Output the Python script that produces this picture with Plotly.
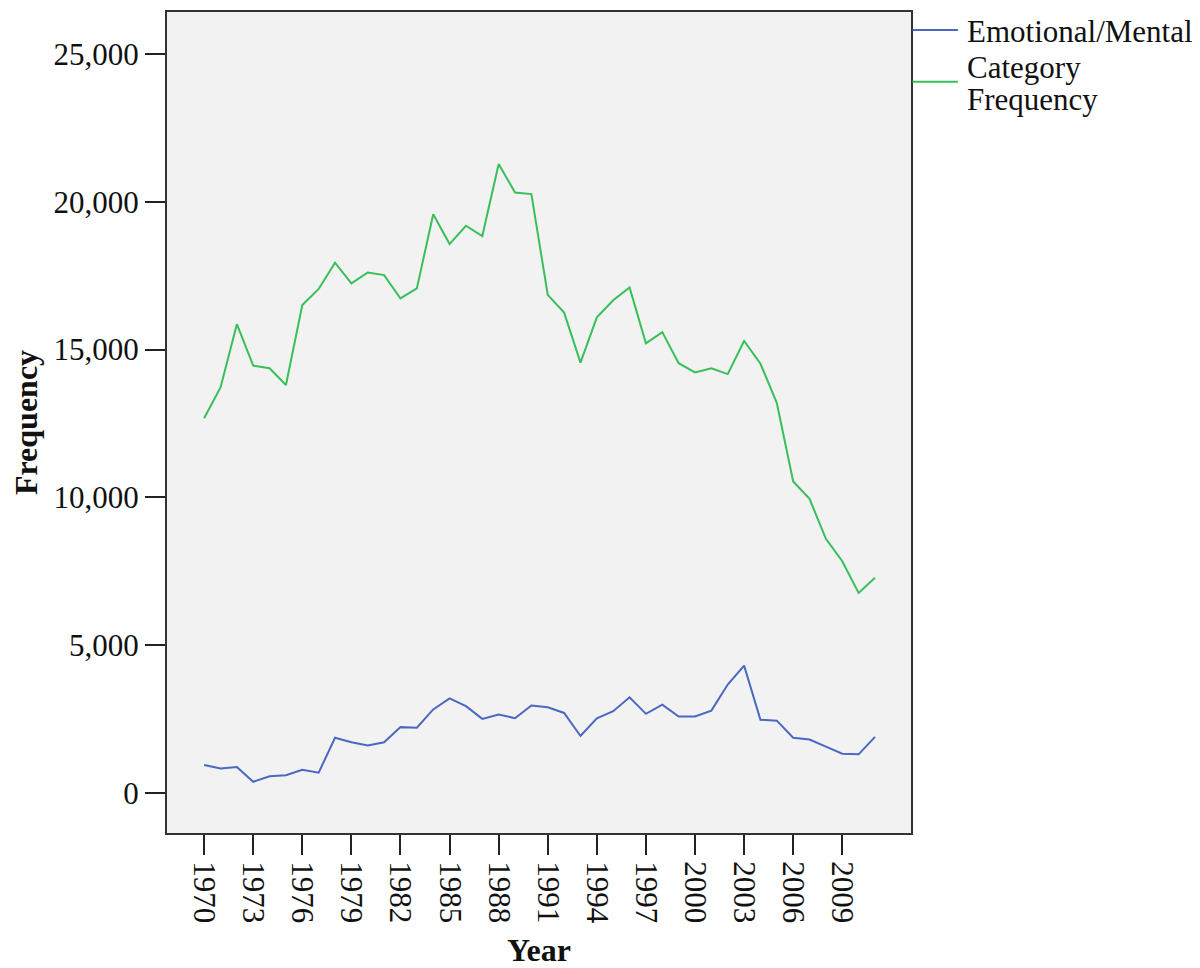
import plotly.graph_objects as go

# Years on the x axis
years = list(range(1970, 2012))

# Emotional/Mental attack frequency per year
emotional_mental = [
    950, 830, 880, 380, 570, 600, 790, 690, 1870, 1720,
    1610, 1720, 2230, 2210, 2830, 3200, 2940, 2510, 2660, 2530,
    2960, 2900, 2710, 1930, 2530, 2770, 3240, 2680, 2990, 2590,
    2590, 2790, 3670, 4310, 2480, 2450, 1870, 1810, 1570, 1330,
    1310, 1900,
]

# Total category frequency per year
category_frequency = [
    12680, 13720, 15860, 14460, 14370, 13800, 16510, 17050, 17940, 17240,
    17610, 17520, 16730, 17070, 19580, 18570, 19190, 18840, 21280, 20310,
    20260, 16850, 16250, 14560, 16090, 16670, 17100, 15210, 15590, 14540,
    14230, 14370, 14170, 15290, 14520, 13190, 10540, 9950, 8600, 7840,
    6770, 7280,
]

series_names = ["Emotional/Mental", "Category Frequency"]
series_colors = ["#4a68c0", "#38bf5a"]

tick_years = list(range(1970, 2010, 3))

font_family = "Liberation Serif, Times New Roman, serif"

fig = go.Figure()
for name, vals, color in zip(series_names, [emotional_mental, category_frequency], series_colors):
    fig.add_trace(go.Scatter(
        x=years, y=vals, mode="lines", name=name,
        line=dict(color=color, width=2), showlegend=False,
    ))

# legend drawn by hand (SPSS style: long line keys, tight wrapped text)
legend_shapes = []
legend_notes = []
key_y = [0.978, 0.915]
for name, color, ky in zip(series_names, series_colors, key_y):
    legend_shapes.append(dict(
        type="line", xref="paper", yref="paper",
        x0=1.002, x1=1.063, y0=ky, y1=ky,
        line=dict(color=color, width=2),
    ))
text_rows = [("Emotional/Mental", 0.976), ("Category", 0.932), ("Frequency", 0.893)]
for txt, ty in text_rows:
    legend_notes.append(dict(
        text=txt, xref="paper", yref="paper", x=1.072, y=ty,
        xanchor="left", yanchor="middle", showarrow=False,
        font=dict(size=31),
    ))

fig.update_layout(
    width=1200, height=968,
    margin=dict(l=159, r=297, t=2, b=143),
    paper_bgcolor="white",
    plot_bgcolor="#f2f2f2",
    font=dict(family=font_family, size=31, color="#111"),
    showlegend=False,
    shapes=legend_shapes,
    annotations=legend_notes,
    xaxis=dict(
        range=[1967.73, 2013.2],
        tickvals=tick_years,
        ticktext=[str(y) for y in tick_years],
        tickangle=90,
        ticks="outside", ticklen=20, tickwidth=2, tickcolor="#222",
        showgrid=False, zeroline=False,
        showline=True, linecolor="#333", linewidth=2, mirror=True,
        title=dict(text="<b>Year</b>", font=dict(size=32), standoff=16),
    ),
    yaxis=dict(
        range=[-1351, 26419],
        tickvals=[0, 5000, 10000, 15000, 20000, 25000],
        tickformat=",d",
        ticks="outside", ticklen=20, tickwidth=2, tickcolor="#222",
        showgrid=False, zeroline=False,
        showline=True, linecolor="#333", linewidth=2, mirror=True,
        title=dict(text="<b>Frequency</b>", font=dict(size=32), standoff=12),
    ),
)

fig.write_html("out.html")
